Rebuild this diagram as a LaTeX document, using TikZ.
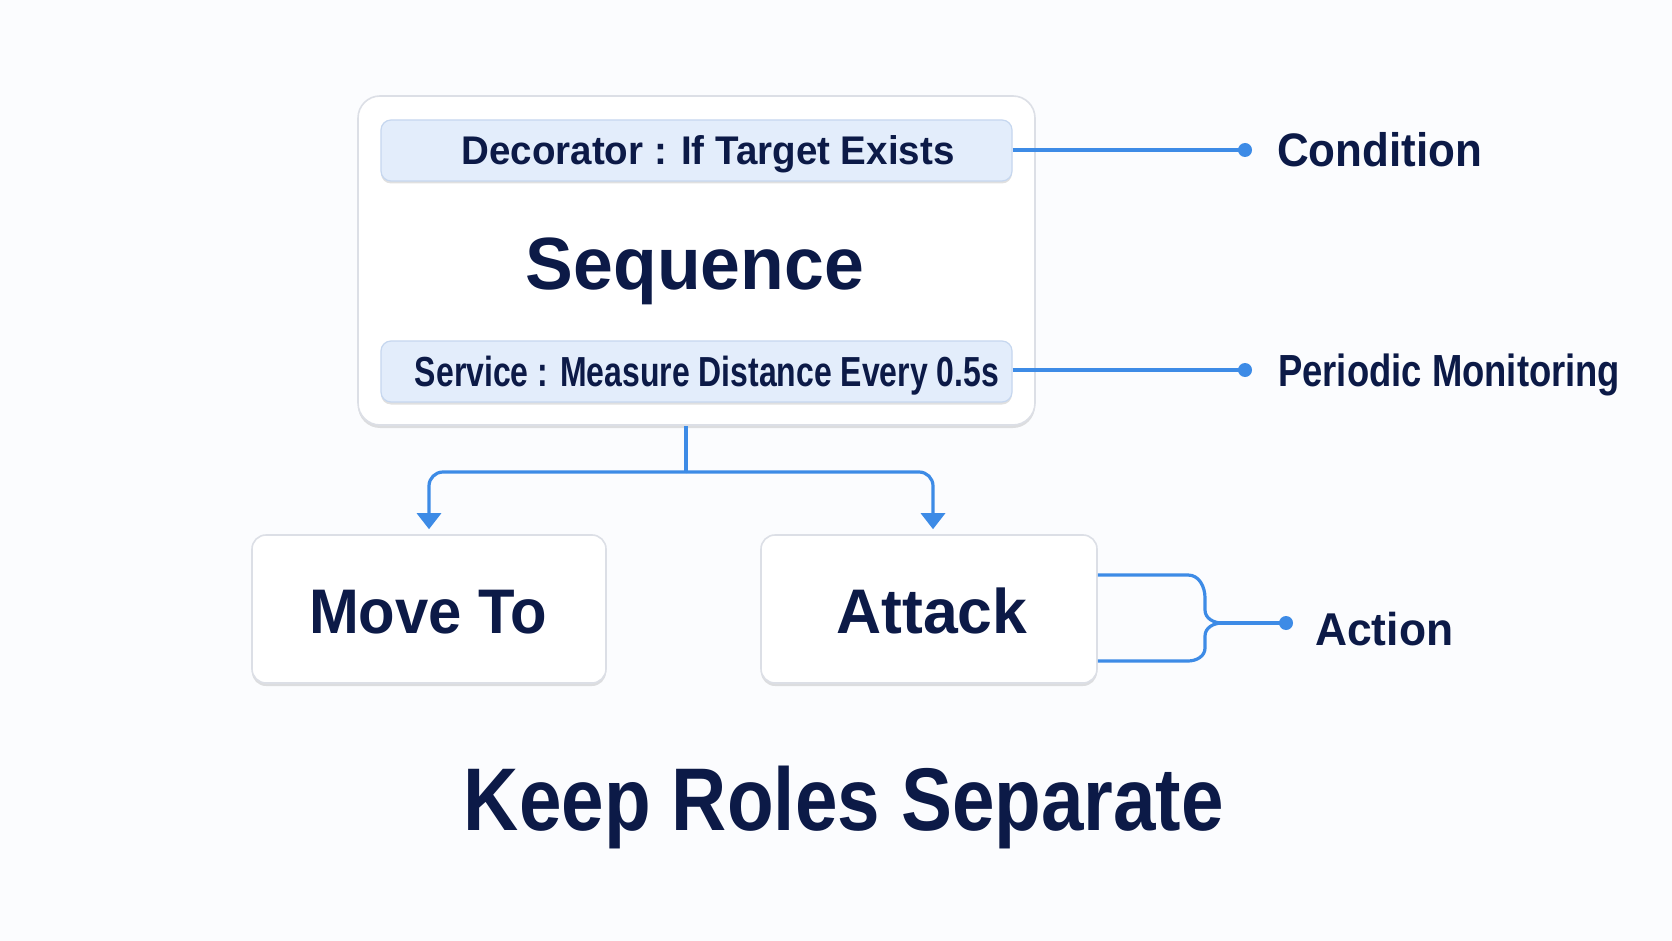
\documentclass[tikz,border=0pt]{standalone}
\usepackage{fontspec}
\usepackage{graphicx}
\setmainfont{Liberation Sans}
\usetikzlibrary{arrows.meta,shadows}
\definecolor{navy}{HTML}{0C1A47}
\definecolor{lineblue}{HTML}{3D8BE6}
\definecolor{barfill}{HTML}{E3EDFB}
\definecolor{barline}{HTML}{C6D7EF}
\definecolor{bgc}{HTML}{FBFCFE}
\definecolor{boxline}{HTML}{DCDFE6}
\newcommand\fittext[3]{\resizebox{#1pt}{\height}{\fontsize{#2}{#2}\selectfont\bfseries #3}}
\tikzset{
  x=1pt, y=-1pt,
  cardbox/.style={draw=boxline, line width=1.6pt, fill=white, rounded corners=#1,
    drop shadow={shadow xshift=0pt, shadow yshift=-3pt, opacity=0.12, fill=black}},
  barbox/.style={draw=barline, line width=1.2pt, fill=barfill, rounded corners=10pt,
    drop shadow={shadow xshift=0pt, shadow yshift=-2.5pt, opacity=0.12, fill=black}},
  txt/.style={inner sep=0pt, text=navy},
  conn/.style={draw=lineblue, line width=3.2pt},
  tip/.style={fill=lineblue, circle, inner sep=0pt, minimum size=14pt},
}
\begin{document}
\begin{tikzpicture}
\useasboundingbox[fill=bgc] (0,0) rectangle (1672,941);

% main sequence card
\node[cardbox=22pt, minimum width=677pt, minimum height=329pt] (seq) at (696.5,260.5) {};
\node[barbox, minimum width=631pt, minimum height=61pt] (dec) at (696.5,150.5) {};
\node[barbox, minimum width=631pt, minimum height=61pt] (svc) at (696.5,371.5) {};
\node[txt, anchor=base] (dectxt) at (708,165) {\fittext{493}{40}{Decorator : If Target Exists}};
\node[txt, anchor=base] (svctxt) at (707,386) {\fittext{584}{42}{Service : Measure Distance Every 0.5s}};
\node[txt, anchor=base] (seqtxt) at (695,290) {\fittext{338}{74}{Sequence}};

% child cards
\node[cardbox=14pt, minimum width=354pt, minimum height=148pt] (move) at (429,609) {};
\node[cardbox=14pt, minimum width=336pt, minimum height=148pt] (attack) at (929,609) {};
\node[txt, anchor=base] (movetxt) at (428,633) {\fittext{238}{63}{Move To}};
\node[txt, anchor=base] (attacktxt) at (932,633) {\fittext{191}{63}{Attack}};

% side labels
\coordinate (cdot) at (1245,150);
\coordinate (pdot) at (1245,370);
\coordinate (adot) at (1286,623);
\node[txt, anchor=base west] (cond) at (1277,167) {\fittext{205}{47}{Condition}};
\node[txt, anchor=base west] (period) at (1278,386) {\fittext{342}{45}{Periodic Monitoring}};
\node[txt, anchor=base west] (action) at (1315,645) {\fittext{138}{46}{Action}};

\draw[conn] (dec.east |- cdot) -- (cdot);
\node[tip] at (cdot) {};
\draw[conn] (svc.east |- pdot) -- (pdot);
\node[tip] at (pdot) {};

% tree connectors
\coordinate (j) at (686,472);
\draw[conn] (seq.south -| j) -- (j);
\draw[conn, rounded corners=14pt, -{Triangle[width=24pt,length=16pt]}, shorten >=5pt] (j) -| (move.north);
\draw[conn, rounded corners=14pt, -{Triangle[width=24pt,length=16pt]}, shorten >=5pt] (j) -| ([xshift=4pt]attack.north);

% action bracket
\coordinate (at1) at (1097,575);
\coordinate (at2) at (1097,661);
\coordinate (jb) at (1205,623);
\draw[conn] (attack.east |- at1) -- (1188,575) to[out=0,in=90] (1205,598) -- (1205,610) to[out=-90,in=180] (1222,623);
\draw[conn] (attack.east |- at2) -- (1188,661) to[out=0,in=-90] (1205,648) -- (1205,636) to[out=90,in=180] (1222,623);
\draw[conn] (1220,623) -- (adot);
\node[tip] at (adot) {};

% title
\node[txt, anchor=base] (title) at (844,830) {\fittext{760}{89}{Keep Roles Separate}};
\end{tikzpicture}
\end{document}
